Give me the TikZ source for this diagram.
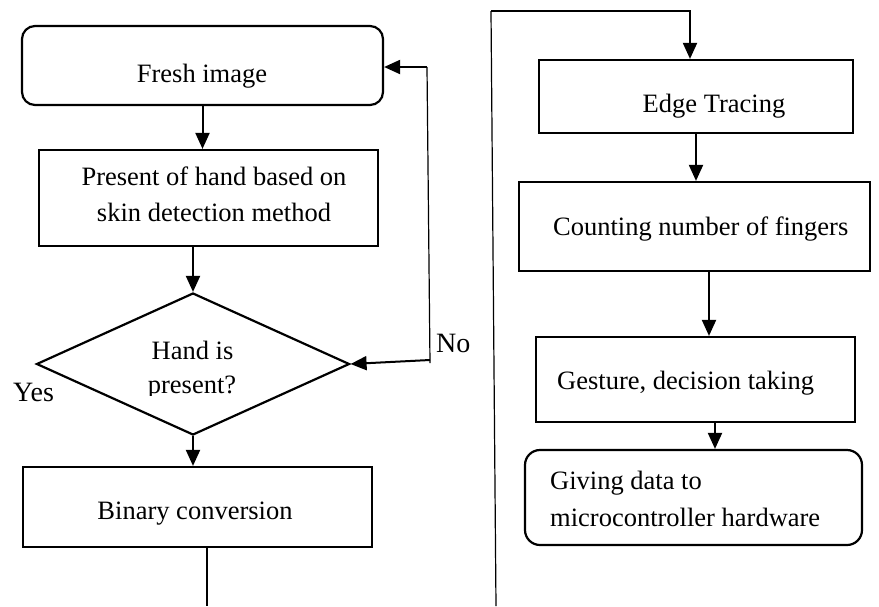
\documentclass[tikz,border=0pt]{standalone}
\usepackage{fontspec}
\setmainfont{Liberation Serif}
\usetikzlibrary{arrows.meta,shapes.geometric}

\begin{document}
\begin{tikzpicture}[x=1pt,y=-1pt,
  box/.style={draw, line width=2.2pt, rectangle, inner sep=0pt},
  rbox/.style={box, rounded corners=13pt},
  decision/.style={draw, line width=2.2pt, diamond, inner sep=0pt},
  arr/.style={line width=2pt, -{Triangle[length=16pt,width=14pt]}},
  thinline/.style={line width=1.2pt},
  txt/.style={font=\fontsize{26.5}{35}\selectfont, inner sep=0pt},
  lbl/.style={font=\fontsize{28}{32}\selectfont, inner sep=0pt}]

\useasboundingbox (0,0) rectangle (879,606);

% ---- left column ----
\node[rbox, minimum width=361pt, minimum height=79pt] (fresh) at (202.5,65.5) {};
\node[box, minimum width=339pt, minimum height=96pt] (present) at (208.5,198) {};
\node[decision, minimum width=313pt, minimum height=142pt] (dia) at (193,364) {};
\node[box, minimum width=349pt, minimum height=80pt] (binary) at (197.5,507) {};

% ---- right column ----
\node[box, minimum width=314pt, minimum height=73pt] (edge) at (696,96.5) {};
\node[box, minimum width=351pt, minimum height=89pt] (count) at (694.5,226.5) {};
\node[box, minimum width=319pt, minimum height=85pt] (gest) at (695.5,379.5) {};
\node[rbox, rounded corners=15pt, minimum width=337pt, minimum height=95pt] (give) at (693.5,497.5) {};

% ---- texts ----
\node[txt, anchor=base] (freshT) at (202,82) {Fresh image};
\node[txt, anchor=base] (presT1) at (214,185) {Present of hand based on};
\node[txt, anchor=base] (presT2) at (214,221) {skin detection method};
\node[txt, anchor=base] (diaT1) at (192.5,359) {Hand is};
\begin{scope}
  \clip (120,366) rectangle (270,395.5);
  \node[txt, anchor=base] (diaT2) at (192,393) {present?};
\end{scope}
\node[lbl, anchor=base west] (yes) at (13,401) {Yes};
\node[lbl, anchor=base west] (no) at (436,352) {No};
\node[txt, anchor=base] (binT) at (195,519) {Binary conversion};
\node[txt, anchor=base] (edgeT) at (714,112) {Edge Tracing};
\node[txt, anchor=base west] (countT) at (553,235) {Counting number of fingers};
\node[txt, anchor=base west] (gestT) at (557,389) {Gesture, decision taking};
\node[txt, anchor=base west] (giveT1) at (550,489) {Giving data to};
\node[txt, anchor=base west] (giveT2) at (550,526) {microcontroller hardware};

% ---- main flow ----
\draw[arr] (fresh.south) -- (fresh.south |- present.north);
\draw[arr] (present.south -| dia.north) -- (dia.north);
\draw[arr] (dia.south) -- (dia.south |- binary.north);
\coordinate (binOut) at (207,606);
\draw[thinline] (binary.south -| binOut) -- (binOut);

% ---- "No" loop back to the fresh image ----
\coordinate (noA) at (430,360);
\coordinate (noB) at (427,67);
\draw[arr] (noA) -- (dia.east);
\draw[thinline] ([yshift=-3pt]noA) -- (noB);
\draw[arr] (noB) -- (noB -| fresh.east);

% ---- connector between the columns ----
\coordinate (lnBot) at (496,606);
\coordinate (lnTop) at (491,11);
\coordinate (edgeIn) at ([xshift=-6pt]edge.north);
\draw[thinline] (lnBot) -- (lnTop);
\draw[arr] (lnTop) -- (lnTop -| edgeIn) -- (edgeIn);

% ---- right column flow ----
\draw[arr] (edge.south) -- (edge.south |- count.north);
\coordinate (cOut) at ([xshift=14.5pt]count.south);
\draw[arr] (cOut) -- (cOut |- gest.north);
\coordinate (gOut) at ([xshift=19.5pt]gest.south);
\draw[arr] (gOut) -- (gOut |- give.north);
\end{tikzpicture}
\end{document}
